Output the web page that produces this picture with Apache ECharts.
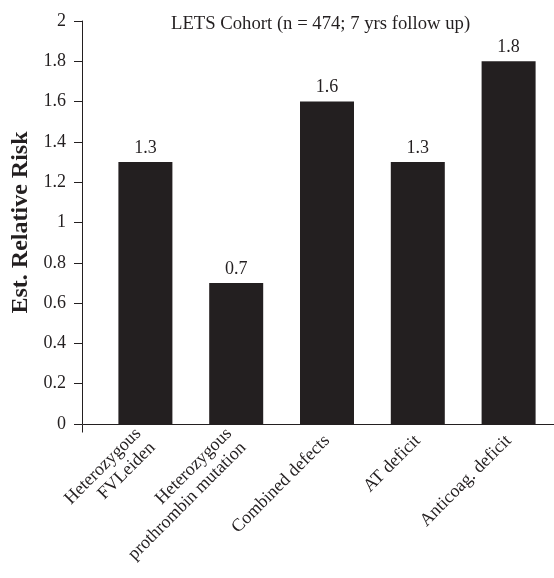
<!DOCTYPE html>
<html>
<head>
<meta charset="utf-8">
<script src="https://cdn.jsdelivr.net/npm/echarts@6/dist/echarts.min.js"></script>
<style>html,body{margin:0;padding:0;background:#fff}#c{width:554px;height:578px}</style>
</head>
<body>
<div id="c"></div>
<script>
const categories = ['Heterozygous\nFVLeiden', 'Heterozygous\nprothrombin mutation', 'Combined defects', 'AT deficit', 'Anticoag. deficit'];
const riskValues = [1.3, 0.7, 1.6, 1.3, 1.8];
const titleText = 'LETS Cohort (n = 474; 7 yrs follow up)';
const yAxisName = 'Est. Relative Risk';

const INK = '#231f20';
const FONT = '"Liberation Serif", "Times New Roman", serif';
const chart = echarts.init(document.getElementById('c'));
chart.setOption({
  animation: false,
  backgroundColor: '#fff',
  title: {
    text: titleText, left: 166, top: 10,
    textStyle: { fontFamily: FONT, fontSize: 18.7, fontWeight: 'normal', color: INK }
  },
  grid: { left: 100, top: 21, width: 475, bottom: 154, containLabel: false },
  xAxis: {
    type: 'category', data: categories,
    axisLine: { lineStyle: { color: INK, width: 1 } },
    axisTick: { show: false },
    axisLabel: { rotate: 45, margin: 14, fontFamily: FONT, fontSize: 18, color: INK, lineHeight: 20, interval: 0 }
  },
  yAxis: {
    type: 'value', min: 0, max: 2, interval: 0.2, offset: 18,
    name: yAxisName, nameLocation: 'middle', nameGap: 48,
    nameTextStyle: { fontFamily: FONT, fontSize: 24, fontWeight: 'bold', color: INK },
    axisLine: { show: true, lineStyle: { color: INK, width: 1 } },
    axisTick: { show: true, length: 8, lineStyle: { color: INK } },
    splitLine: { show: false },
    axisLabel: { margin: 16, fontFamily: FONT, fontSize: 18, color: INK,
      formatter: v => String(Math.round(v * 10) / 10) }
  },
  series: [{
    type: 'bar', data: riskValues, barWidth: 54,
    itemStyle: { color: INK },
    label: { show: true, position: 'top', distance: 5, fontFamily: FONT, fontSize: 18, color: INK,
      formatter: p => p.value.toFixed(1) }
  }]
});
// connect y-axis to the x-axis line (axis decoration)
const y0 = Math.round(chart.convertToPixel({ yAxisIndex: 0 }, 0)) + 0.5;
const xStart = chart.getModel().getComponent('grid').coordinateSystem.getRect().x;
const yAxisX = Math.round(xStart - 18) + 0.5;
chart.setOption({
  graphic: [
    { type: 'line', shape: { x1: yAxisX, y1: y0, x2: xStart, y2: y0 }, style: { stroke: INK, lineWidth: 1 } },
    { type: 'line', shape: { x1: yAxisX, y1: y0, x2: yAxisX, y2: y0 + 8 }, style: { stroke: INK, lineWidth: 1 } }
  ]
});
</script>
</body>
</html>
